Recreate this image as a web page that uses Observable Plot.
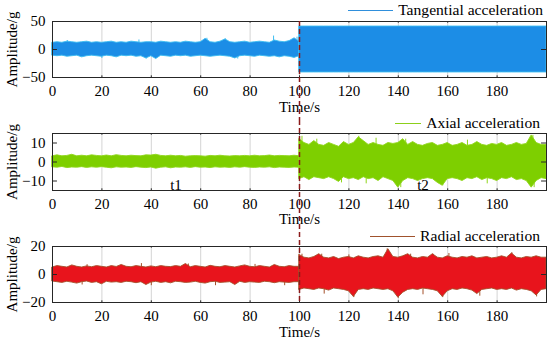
<!DOCTYPE html>
<html><head><meta charset="utf-8">
<script src="https://cdn.jsdelivr.net/npm/d3@7"></script>
<script src="https://cdn.jsdelivr.net/npm/@observablehq/plot@0.6"></script>
<style>
body{margin:0;background:#fff;}
#root{position:relative;width:550px;height:347px;overflow:hidden;font-family:"Liberation Serif",serif;background:#fff;}
.panel{position:absolute;left:0;}
.legend{position:absolute;display:flex;align-items:center;font-size:15.6px;line-height:18px;height:18px;color:#000;white-space:nowrap;}
.legend .sw{display:inline-block;height:0;border-top:1.4px solid;margin-right:5px;}
</style></head><body><div id="root"></div>
<script>
// ---- data (envelopes) ----
const xTicks = [0, 20, 40, 60, 80, 100, 120, 140, 160, 180];
const splitTime = 100;
const timesPre = d3.range(0, 101, 2);   // 0..100 s
const timesPost = d3.range(100, 201, 2); // 100..200 s

const seriesNames = ["Tangential acceleration", "Axial acceleration", "Radial acceleration"];
const yDomains = [[-50, 50], [-15, 15], [-20, 20]];
const yTicks = [[-50, 0, 50], [-10, 0, 10], [-20, 0, 20]];
const phaseLabels = ["t1", "t2"];
const phaseLabelTimes = [50, 150];
const phaseLabelValue = -12;

const tanUpperPre = [12,13,12,14,13,12,13,14,12,13, 12,13,14,12,13,12,14,13,12,13, 13,12,14,13,12,13,12,14,13,12, 13,19,13,12,14,18,13,12,13,14, 12,13,14,13,12,16,14,13,15,20,14];
const tanLowerPre = [-11,-12,-11,-13,-12,-11,-14,-12,-11,-12, -13,-11,-12,-14,-11,-12,-11,-13,-12,-16, -12,-17,-11,-12,-13,-11,-12,-11,-13,-12, -11,-12,-13,-12,-11,-12,-13,-16,-12,-11, -12,-13,-11,-12,-13,-12,-14,-12,-13,-15,-12];
const tanUpperPost = [41,41,41,41,41,41,41,41,41,41, 41,41,41,41,41,41,41,41,41,41, 41,41,41,41,41,41,41,41,41,41, 41,41,41,41,41,41,41,41,41,41, 41,41,41,41,41,41,41,41,41,41,41];
const tanLowerPost = [-41,-41,-41,-41,-41,-41,-41,-41,-41,-41, -41,-41,-41,-41,-41,-41,-41,-41,-41,-41, -41,-41,-41,-41,-41,-41,-41,-41,-41,-41, -41,-41,-41,-41,-41,-41,-41,-41,-41,-41, -41,-41,-41,-41,-41,-41,-41,-41,-41,-41,-41];

const axUpperPre = [3,3.5,3,3.2,3.8,3,3.3,3,3.5,3.2, 3,3.4,3,3.6,3.2,3,3.3,3.1,3,3.5, 3.4,3.8,3.2,3,3.3,3,3.2,2.8,3,3.1, 3,2.8,3.2,3,3.3,3,2.9,3.1,3,3.2, 3,3.3,3,3.1,3.4,3,3.2,3.1,3,3.3,3];
const axLowerPre = [-2.8,-3,-2.6,-3.2,-2.9,-3,-2.7,-3.1,-2.8,-3, -2.7,-3,-3.3,-2.8,-3,-2.9,-3.1,-2.7,-3,-3.2, -2.9,-3.5,-3,-2.8,-3.3,-2.9,-3,-2.8,-3.1,-2.7, -3,-2.9,-3.2,-2.8,-3,-2.9,-3.1,-2.8,-3,-2.7, -3,-3.1,-2.9,-3,-2.8,-3.2,-2.9,-3,-3.1,-2.9,-3];
const axUpperPost = [12,10,9,11,9,8.5,10,9,8,10.5, 9,10,13,11,9,10,9,8.5,10,9.5, 10,12,9,10.5,9,8.5,9.5,10,8.5,9, 10,8.5,9,10,8.5,9,10.5,9,8.5,9.5, 9,10,8.5,9,10,9,9.5,14,10,9,9];
const axLowerPost = [-9,-8,-9.5,-8,-8.5,-9,-8,-9,-10.5,-8, -9,-8.5,-9.5,-8,-9,-8.5,-10,-8,-9,-10, -13.5,-10,-8.5,-9,-10,-9,-8.5,-9,-11,-12.5, -9,-8.5,-9,-10,-8.5,-9,-8,-9.5,-8.5,-9, -10,-8.5,-9,-8,-9.5,-9,-10,-13.5,-10,-8.5,-9];

const radUpperPre = [5,6,5.5,5,6.5,5.5,5,5.8,5.2,6, 5.5,5,6,5.4,6.8,5.5,5.2,6,5.5,5, 5.8,5.2,6,5.5,5.3,6,5.5,7.5,5.2,6, 5.5,5,6.2,5.5,5.2,6,5.5,5,5.8,6.5, 5.5,5.2,6,5.5,5,6.8,5.5,5.2,6,5.5,5.5];
const radLowerPre = [-5,-5.5,-6,-5.2,-5.8,-6.5,-5.5,-5,-6,-5.5, -7,-5.2,-5.8,-5.5,-6,-5.2,-5.5,-6.2,-5.5,-7.5, -5.8,-5.2,-6,-5.5,-6.3,-5.2,-5.5,-6,-5.8,-5.2, -6,-6.5,-5.5,-5.2,-6,-5.8,-5.5,-7.5,-5.2,-6, -5.5,-5.8,-6,-5.2,-5.5,-6.2,-5.5,-5.8,-6,-5.5,-5.5];
const radUpperPost = [14,12,11.5,12.5,14.5,12,11.5,12.5,11,12, 12.5,11.5,13,12,11.5,12.5,13,12,18,12.5, 12,13,14.5,12,11.5,12.5,12,14.5,12,11.5, 13,12,11.5,12.5,12,13,11.5,12,12.5,11.5, 12,13,12,15,12,11.5,12.5,12,13,12,12];
const radLowerPost = [-11,-10,-10.5,-11,-10,-10.5,-11.5,-10,-10.5,-11, -12,-16,-11,-10.5,-11,-10,-10.5,-11,-10.5,-12, -16.5,-13,-11,-10.5,-11,-10,-10.5,-11,-12,-16, -12,-10.5,-11,-10,-10.5,-11.5,-14,-11,-10.5,-10, -11,-10.5,-11,-10,-11.5,-10.5,-11,-12,-15,-11,-10.5];

// isolated peaks (time s, amplitude g)
const tanSpikeTimes = [6, 20, 35, 38, 42, 62.5, 70, 75, 89.5, 99];
const tanSpikeValues = [16, -16, 17, -17, -16, 20, 19, -17, 24, 22];
const axSpikeTimes = [101, 107, 117, 124, 127, 131, 141, 143, 158, 168, 176, 194.5, 195];
const axSpikeValues = [13.5, 12, -11, 13.5, -11.5, 12.5, -13.5, 12, -12.5, 11.5, -11.5, 14, -13.5];
const radSpikeTimes = [12, 14, 36, 40, 55, 66, 82, 94, 101, 109, 110, 120, 122, 135.5, 140, 145, 150, 154, 158, 160.5, 173, 186, 196];
const radSpikeValues = [-7.5, 7, 7.8, -8, 7.5, -8, 7.2, -8, 14.5, 14.5, -14, 14, -16.5, 18.3, -17, 14.5, -14.5, 14.5, -16.5, 15, -15.5, 15.5, -16];

const fills = ["#1c8de6", "#7ecf00", "#e8141c"];
const edges = ["#3cbdf0", "#8fd61a", "#a4502a"];
const legendLines = ["#2f8fdc", "#8ccf1a", "#a0522d"];

function rows(upPre, loPre, upPost, loPost) {
  const r = [];
  timesPre.forEach((t, i) => r.push({t, hi: upPre[i], lo: loPre[i], seg: "pre"}));
  timesPost.forEach((t, i) => r.push({t, hi: upPost[i], lo: loPost[i], seg: "post"}));
  return r;
}
const spikes = (ts, vs) => ts.map((t, i) => ({t, v: vs[i]}));
const panelData = [
  rows(tanUpperPre, tanLowerPre, tanUpperPost, tanLowerPost),
  rows(axUpperPre, axLowerPre, axUpperPost, axLowerPost),
  rows(radUpperPre, radLowerPre, radUpperPost, radLowerPost)
];
const panelSpikes = [
  spikes(tanSpikeTimes, tanSpikeValues),
  spikes(axSpikeTimes, axSpikeValues),
  spikes(radSpikeTimes, radSpikeValues)
];

// ---- layout ----
const layout = [
  {top: 0, height: 120, mt: 21, mb: 43, dashTop: 0, dashBottom: -43, tdy: 34},
  {top: 120, height: 112, mt: 13, mb: 42, dashTop: -13, dashBottom: -42, tdy: 33},
  {top: 232, height: 115, mt: 14, mb: 45, dashTop: -14, dashBottom: 0, tdy: 34}
];
const legendPos = [
  {right: 7, top: 1, line: 45},
  {right: 10, top: 114, line: 26},
  {right: 10, top: 227, line: 45}
];

const root = document.getElementById("root");

panelData.forEach((data, k) => {
  const L = layout[k];
  const [y0, y1] = yDomains[k];
  const tickLen = (y1 - y0) * 0.03;
  const marks = [
    Plot.gridX(xTicks, {stroke: "#d4d4d4", strokeOpacity: 1, strokeWidth: 1}),
    Plot.ruleX(panelSpikes[k], {x: "t", y1: 0, y2: "v", stroke: edges[k], strokeWidth: 1}),
    Plot.areaY(data, {x: "t", y1: "lo", y2: "hi", z: "seg", fill: fills[k], stroke: edges[k], strokeWidth: 0.9, curve: "linear"}),
    Plot.ruleX(xTicks, {y1: y0, y2: y0 + tickLen, stroke: "#262626"}),
    Plot.ruleX(xTicks, {y1: y1, y2: y1 - tickLen, stroke: "#262626"}),
    Plot.ruleY(yTicks[k], {x1: 0, x2: 2, stroke: "#262626"}),
    Plot.ruleY(yTicks[k], {x1: 198, x2: 200, stroke: "#262626"}),
    Plot.frame({stroke: "#262626", strokeWidth: 1}),
    Plot.axisX({ticks: xTicks, tickSize: 0, tickPadding: 8, label: null, tickFormat: d => String(d)}),
    Plot.axisY({ticks: yTicks[k], tickSize: 0, tickPadding: 7, label: "Amplitude/g", labelAnchor: "center", labelOffset: 46, labelArrow: "none"}),
    Plot.text(["Time/s"], {frameAnchor: "bottom", dy: L.tdy, text: d => d, fontSize: 15}),
    Plot.ruleX([splitTime], {stroke: "#8b1a1a", strokeWidth: 1.5, strokeDasharray: "5,3", insetTop: L.dashTop, insetBottom: L.dashBottom})
  ];
  if (k === 1) {
    marks.push(Plot.text(phaseLabels, {x: (d, i) => phaseLabelTimes[i], y: () => phaseLabelValue, text: d => d, fontSize: 15, fill: "#000"}));
  }
  const svg = Plot.plot({
    width: 550,
    height: L.height,
    marginTop: L.mt,
    marginBottom: L.mb,
    marginLeft: 52,
    marginRight: 4,
    x: {domain: [0, 200]},
    y: {domain: yDomains[k]},
    style: {fontFamily: "Liberation Serif, serif", fontSize: "15px", color: "#000", background: "transparent", overflow: "visible"},
    marks
  });
  svg.classList.add("panel");
  svg.style.top = L.top + "px";
  root.appendChild(svg);
});

// legends
seriesNames.forEach((name, k) => {
  const P = legendPos[k];
  const div = document.createElement("div");
  div.className = "legend";
  div.style.right = P.right + "px";
  div.style.top = P.top + "px";
  const sw = document.createElement("span");
  sw.className = "sw";
  sw.style.width = P.line + "px";
  sw.style.borderColor = legendLines[k];
  const tx = document.createElement("span");
  tx.textContent = name;
  div.appendChild(sw);
  div.appendChild(tx);
  root.appendChild(div);
});
</script>
</body></html>
